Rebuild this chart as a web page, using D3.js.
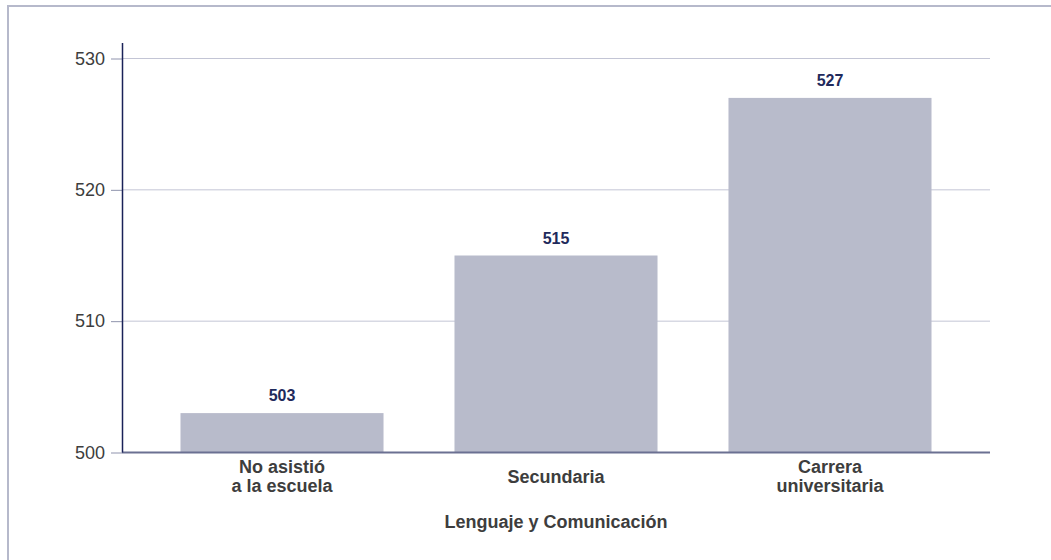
<!DOCTYPE html>
<html lang="es">
<head>
<meta charset="utf-8">
<script src="https://cdn.jsdelivr.net/npm/d3@7"></script>
<style>
  html, body { margin: 0; padding: 0; background: #ffffff; }
  svg { display: block; font-family: "Liberation Sans", Arial, Helvetica, sans-serif; }
</style>
</head>
<body>
<div id="chart"></div>
<script>
// Puntaje promedio por nivel educativo
const categories = [["No asistió", "a la escuela"], ["Secundaria"], ["Carrera", "universitaria"]];
const scores = [503, 515, 527];
const yTicks = [500, 510, 520, 530];
const axisTitle = "Lenguaje y Comunicación";

const width = 1051, height = 560;
const margin = { top: 58.5, right: 61, bottom: 107.5, left: 122 };

const svg = d3.select("#chart").append("svg")
  .attr("width", width)
  .attr("height", height);

// Marco exterior (solo bordes superior e izquierdo visibles)
svg.append("path")
  .attr("d", "M8,600 V6 H1100")
  .attr("fill", "none")
  .attr("stroke", "#b6b9cb")
  .attr("stroke-width", 2);

const x = d3.scaleBand()
  .domain(d3.range(categories.length))
  .range([margin.left, width - margin.right])
  .paddingInner(0.259)
  .paddingOuter(0.2135);

const y = d3.scaleLinear()
  .domain([500, 530])
  .range([height - margin.bottom, margin.top]);

// Líneas de cuadrícula
svg.append("g")
  .selectAll("line")
  .data(yTicks.slice(1))
  .join("line")
  .attr("x1", margin.left)
  .attr("x2", width - margin.right)
  .attr("y1", d => y(d))
  .attr("y2", d => y(d))
  .attr("stroke", "#c3c5d5")
  .attr("stroke-width", 1);

// Eje Y
const yAxis = d3.axisLeft(y)
  .tickValues(yTicks)
  .tickSize(11)
  .tickPadding(6)
  .tickFormat(d3.format("d"));

const gy = svg.append("g")
  .attr("transform", `translate(${margin.left},0)`)
  .call(yAxis);
gy.select(".domain").remove();
gy.selectAll(".tick line").attr("stroke", "#8f93ad").attr("stroke-width", 1);
gy.selectAll(".tick text")
  .attr("fill", "#3d3d3d")
  .style("font-size", "18px")
  .style("font-family", "'Liberation Sans', Arial, sans-serif");

// Barras
svg.append("g")
  .selectAll("rect")
  .data(scores)
  .join("rect")
  .attr("x", (d, i) => x(i))
  .attr("width", x.bandwidth())
  .attr("y", d => y(d))
  .attr("height", d => y(500) - y(d))
  .attr("fill", "#b8bbcb");

// Etiquetas de valor
svg.append("g")
  .selectAll("text")
  .data(scores)
  .join("text")
  .attr("x", (d, i) => x(i) + x.bandwidth() / 2)
  .attr("y", d => y(d) - 12)
  .attr("text-anchor", "middle")
  .attr("fill", "#1f2a5c")
  .style("font-size", "16px")
  .style("font-weight", "bold")
  .text(d => d3.format("d")(d));

// Línea del eje X
svg.append("line")
  .attr("x1", margin.left)
  .attr("x2", width - margin.right)
  .attr("y1", y(500))
  .attr("y2", y(500))
  .attr("stroke", "#6b7092")
  .attr("stroke-width", 2);

// Línea del eje Y
svg.append("line")
  .attr("x1", margin.left + 0.5)
  .attr("x2", margin.left + 0.5)
  .attr("y1", 43)
  .attr("y2", y(500))
  .attr("stroke", "#1a2258")
  .attr("stroke-width", 1.5);

// Etiquetas de categoría
const lineH = 19;
const centerY = 476.5;
svg.append("g")
  .selectAll("text")
  .data(categories)
  .join("text")
  .attr("text-anchor", "middle")
  .attr("fill", "#3d3d3d")
  .style("font-size", "18px")
  .style("font-weight", "bold")
  .each(function (lines, i) {
    const t = d3.select(this);
    const cx = x(i) + x.bandwidth() / 2;
    const firstY = centerY + 6 - (lines.length - 1) * lineH / 2;
    lines.forEach((ln, k) => {
      t.append("tspan")
        .attr("x", cx)
        .attr("y", firstY + k * lineH)
        .text(ln);
    });
  });

// Título del eje X
svg.append("text")
  .attr("x", (margin.left + width - margin.right) / 2)
  .attr("y", 528)
  .attr("text-anchor", "middle")
  .attr("fill", "#3d3d3d")
  .style("font-size", "18px")
  .style("font-weight", "bold")
  .text(axisTitle);
</script>
</body>
</html>
